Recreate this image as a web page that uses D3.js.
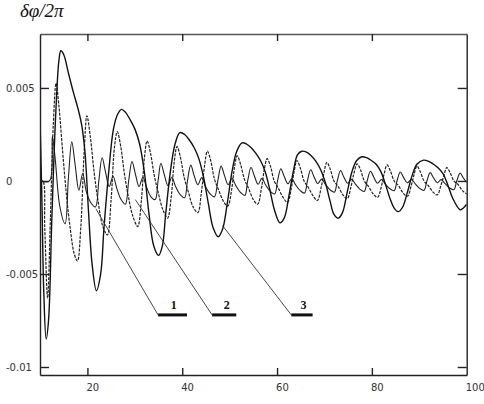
<!DOCTYPE html>
<html>
<head>
<meta charset="utf-8">
<script src="https://cdn.jsdelivr.net/npm/d3@7"></script>
<style>
  html, body { margin: 0; padding: 0; background: #fff; }
  svg { display: block; }
</style>
</head>
<body>
<svg id="chart" width="484" height="404"></svg>
<script>
// ---- DATA (y values in units of 1e-3) ----
const xTicks = [20, 40, 60, 80, 100];
const xTickLabels = ["20", "40", "60", "80", "100"];
const yTicks = [5, 0, -5, -10];
const yTickLabels = ["0.005", "0", "-0.005", "-0.01"];

// curve with the largest, slowest oscillation (solid, heavy)
const curveA = [
  [10,3.4],[10.4,-1.0],[10.8,-6.0],[11.3,-8.5],[11.8,-7.5],[12.5,-2.0],[13.3,3.5],[14.0,6.5],[14.4,7.0],
  [15.0,6.8],[16.0,5.8],[17.0,4.8],[18.0,3.9],[18.8,3.0],[19.5,1.5],[20.2,-1.5],[21.0,-4.5],[21.9,-5.9],
  [22.8,-5.0],[23.5,-2.5],[24.5,0.5],[25.5,2.8],[26.4,3.6],[27.2,3.85],[28.0,3.7],[29.0,3.3],[30.0,2.8],
  [31.0,2.0],[32.0,0.5],[33.0,-1.8],[34.0,-3.5],[35.0,-4.0],[35.8,-3.5],[36.5,-1.8],[37.5,0.5],[38.5,2.0],
  [39.5,2.6],[40.5,2.5],[41.5,2.2],[42.5,1.8],[43.5,1.2],[44.5,0.2],[45.5,-1.2],[46.5,-2.5],[47.6,-3.0],
  [48.5,-2.6],[49.5,-1.2],[50.5,0.5],[51.5,1.6],[52.6,2.05],[53.5,2.0],[54.5,1.8],[55.5,1.5],[56.5,1.1],
  [57.5,0.5],[58.5,-0.5],[59.5,-1.6],[60.6,-2.25],[61.5,-2.0],[62.5,-0.8],[63.5,0.6],[64.3,1.4],[65.2,1.6],
  [66.2,1.55],[67.2,1.35],[68.2,1.05],[69.2,0.6],[70.2,-0.1],[71.2,-1.1],[72.0,-1.8],[72.9,-2.0],[73.8,-1.7],
  [74.8,-0.6],[75.8,0.5],[76.8,1.1],[77.9,1.3],[78.9,1.25],[79.9,1.1],[80.9,0.9],[81.9,0.5],[82.9,-0.2],
  [83.9,-1.0],[84.8,-1.5],[85.6,-1.65],[86.5,-1.4],[87.5,-0.6],[88.5,0.3],[89.5,0.9],[90.9,1.12],[92,1.05],
  [93,0.9],[94,0.7],[95,0.4],[96,-0.2],[97,-0.9],[98.6,-1.55],[99.3,-1.45],[100,-1.25]
];

// medium-frequency curve (dashed)
const curveB = [
  [10,0],[10.6,0],[11.0,-2.5],[11.6,-6.3],[12.2,-2.0],[12.8,3.0],[13.4,5.25],[14.0,4.0],[14.8,1.5],
  [15.6,-0.8],[16.4,-2.6],[17.2,-3.9],[17.9,-4.3],[18.6,-2.5],[19.3,1.5],[19.9,3.5],[20.6,2.4],[21.4,0.5],
  [22.2,-1.0],[23.2,-2.4],[24.2,-2.9],[25.0,-1.0],[25.7,1.8],[26.3,2.65],[27.0,1.9],[27.8,0.4],[28.6,-0.8],
  [29.6,-1.9],[30.6,-2.45],[31.4,-1.0],[32.0,1.2],[32.6,2.15],[33.3,1.5],[34.1,0.3],[35.0,-0.7],[36.0,-1.6],
  [36.9,-2.0],[37.7,-0.8],[38.3,1.0],[38.9,1.85],[39.6,1.3],[40.4,0.2],[41.3,-0.6],[42.3,-1.4],[43.3,-1.7],
  [44.0,-0.7],[44.7,0.8],[45.3,1.6],[46.0,1.1],[46.8,0.1],[47.7,-0.5],[48.7,-1.1],[49.6,-1.35],[50.4,-0.5],
  [51.0,0.7],[51.6,1.35],[52.3,0.9],[53.1,0.1],[54.0,-0.4],[55.0,-1.0],[55.9,-1.25],[56.7,-0.4],[57.3,0.6],
  [57.9,1.2],[58.6,0.8],[59.4,0.0],[60.3,-0.4],[61.3,-0.9],[62.2,-1.15],[63.0,-0.4],[63.6,0.5],[64.2,1.1],
  [64.9,0.7],[65.7,0.0],[66.6,-0.35],[67.6,-0.8],[68.5,-1.05],[69.3,-0.35],[69.9,0.45],[70.5,1.0],[71.2,0.65],
  [72.0,0.0],[72.9,-0.3],[73.9,-0.75],[74.8,-0.95],[75.6,-0.3],[76.2,0.4],[76.9,0.92],[77.6,0.6],[78.4,0.0],
  [79.3,-0.3],[80.3,-0.7],[81.2,-0.88],[82.0,-0.3],[82.6,0.4],[83.2,0.86],[83.9,0.55],[84.7,0.0],[85.6,-0.25],
  [86.6,-0.65],[87.5,-0.82],[88.3,-0.25],[88.9,0.35],[89.5,0.8],[90.2,0.5],[91.0,0.0],[91.9,-0.25],[92.9,-0.6],
  [93.8,-0.75],[94.6,-0.2],[95.2,0.3],[95.8,0.72],[96.5,0.45],[97.3,0.0],[98.2,-0.2],[99.2,-0.55],[100,-0.7]
];

// small, fast curve (thin solid)
const curveC = [
  [10,0],[12.0,0],[12.6,2.4],[13.2,1.2],[14.2,-1.4],[15.3,-2.3],[16.0,0.2],[16.7,2.1],[17.4,0.9],[18.2,-0.5],
  [19.0,0.4],[19.8,-0.6],[20.8,-1.2],[21.7,-1.4],[22.4,0.0],[23.1,1.25],[23.8,0.5],[24.6,-0.3],[25.4,0.25],
  [26.2,-0.4],[27.1,-1.0],[28.0,-1.25],[28.7,0.0],[29.4,1.05],[30.1,0.4],[30.9,-0.3],[31.7,0.2],[32.5,-0.35],
  [33.4,-0.85],[34.3,-1.0],[34.9,0.0],[35.5,0.95],[36.2,0.35],[37.0,-0.25],[37.8,0.2],[38.6,-0.3],[39.6,-0.75],
  [40.5,-0.9],[41.1,0.0],[41.8,0.85],[42.5,0.3],[43.3,-0.2],[44.1,0.18],[44.9,-0.3],[45.9,-0.7],[46.8,-0.85],
  [47.5,0.0],[48.2,0.8],[48.9,0.3],[49.7,-0.2],[50.5,0.15],[51.3,-0.25],[52.3,-0.62],[53.2,-0.78],[53.8,0.0],
  [54.5,0.72],[55.2,0.28],[56.0,-0.18],[56.8,0.14],[57.6,-0.22],[58.6,-0.56],[59.5,-0.7],[60.1,0.0],[60.8,0.66],
  [61.5,0.25],[62.3,-0.15],[63.1,0.12],[63.9,-0.2],[64.9,-0.52],[65.8,-0.65],[66.4,0.0],[67.1,0.6],[67.8,0.22],
  [68.6,-0.14],[69.4,0.1],[70.2,-0.18],[71.2,-0.48],[72.1,-0.6],[72.7,0.0],[73.4,0.56],[74.1,0.2],[74.9,-0.12],
  [75.7,0.1],[76.5,-0.16],[77.5,-0.45],[78.4,-0.56],[79.0,0.0],[79.7,0.52],[80.4,0.2],[81.2,-0.12],[82.0,0.08],
  [82.8,-0.15],[83.8,-0.42],[84.7,-0.52],[85.3,0.0],[86.0,0.48],[86.7,0.18],[87.5,-0.1],[88.3,0.08],[89.1,-0.14],
  [90.1,-0.4],[91.0,-0.5],[91.6,0.0],[92.3,0.45],[93.0,0.17],[93.8,-0.1],[94.6,0.07],[95.4,-0.13],[96.4,-0.38],
  [97.3,-0.47],[97.9,0.0],[98.6,0.42],[99.3,0.16],[100,-0.08]
];

// curve labels with leader lines (data units)
const labelNames = ["1", "2", "3"];
const leaderStart = [[21.8, -1.5], [30.1, -1.0], [48.5, -2.4]];
const barFrom = [34.9, 46.3, 63.0];
const barTo = [41.0, 51.4, 67.5];
const barLevel = -7.2;
const labelX = [38.2, 49.4, 65.6];

// ---- DRAW ----
const svg = d3.select("#chart");
const W = 484, H = 404;
const L = 40, R = 466.7, T = 34, B = 375;

svg.append("rect").attr("width", W).attr("height", H).attr("fill", "#fff");

const x = d3.scaleLinear().domain([10, 100]).range([L, R]);
const y = d3.scaleLinear().domain([-10.43, 7.9]).range([B, T]);

svg.append("defs").append("clipPath").attr("id", "clip")
  .append("rect").attr("x", L).attr("y", T).attr("width", R - L).attr("height", B - T);

const line = d3.line().x(d => x(d[0])).y(d => y(d[1])).curve(d3.curveCatmullRom.alpha(0.5));

const g = svg.append("g").attr("clip-path", "url(#clip)");
g.append("path").datum(curveC).attr("d", line)
  .attr("fill", "none").attr("stroke", "#222").attr("stroke-width", 1.1);
g.append("path").datum(curveB).attr("d", line)
  .attr("fill", "none").attr("stroke", "#222").attr("stroke-width", 1.2)
  .attr("stroke-dasharray", "3,1.2");
g.append("path").datum(curveA).attr("d", line)
  .attr("fill", "none").attr("stroke", "#111").attr("stroke-width", 1.4);

// axes
const axisColor = "#222";
function styleAxis(sel) {
  sel.selectAll("path.domain").attr("stroke", axisColor).attr("stroke-width", 1.4);
  sel.selectAll(".tick line").attr("stroke", axisColor).attr("stroke-width", 1.4);
  sel.selectAll(".tick text").attr("fill", "#333")
    .style("font-family", "'DejaVu Sans', sans-serif").style("font-size", "10px");
}

const xb = svg.append("g").attr("transform", `translate(0,${B})`)
  .call(d3.axisBottom(x).tickValues(xTicks).tickSize(-7).tickSizeOuter(0).tickPadding(9)
    .tickFormat((d, i) => xTickLabels[i]));
styleAxis(xb);
xb.selectAll(".tick text").attr("text-anchor", "start").attr("dx", -1.5);
xb.selectAll(".tick").filter(d => d === 100).select("line").remove();

const xt = svg.append("g").attr("transform", `translate(0,${T})`)
  .call(d3.axisTop(x).tickValues(xTicks.filter(d => d < 100)).tickSize(-7).tickSizeOuter(0).tickFormat(""));
styleAxis(xt);
xt.selectAll("path.domain").attr("stroke", "#555");

const yl = svg.append("g").attr("transform", `translate(${L},0)`)
  .call(d3.axisLeft(y).tickValues(yTicks).tickSize(-9).tickSizeOuter(0)
    .tickFormat((d, i) => yTickLabels[i]));
styleAxis(yl);
yl.selectAll(".tick text").attr("text-anchor", "start").attr("x", 6 - L);

const yr = svg.append("g").attr("transform", `translate(${R},0)`)
  .call(d3.axisRight(y).tickValues(yTicks).tickSize(-9).tickSizeOuter(0).tickFormat(""));
styleAxis(yr);

// leader lines, bars and labels
const ann = svg.append("g");
labelNames.forEach((name, i) => {
  ann.append("line")
    .attr("x1", x(leaderStart[i][0])).attr("y1", y(leaderStart[i][1]))
    .attr("x2", x(barFrom[i])).attr("y2", y(barLevel))
    .attr("stroke", "#333").attr("stroke-width", 0.9);
  ann.append("line")
    .attr("x1", x(barFrom[i])).attr("y1", y(barLevel))
    .attr("x2", x(barTo[i])).attr("y2", y(barLevel))
    .attr("stroke", "#111").attr("stroke-width", 3);
  ann.append("text")
    .attr("x", x(labelX[i])).attr("y", y(barLevel) - 6)
    .attr("text-anchor", "middle")
    .style("font-family", "'Liberation Serif', serif").style("font-weight", "bold")
    .style("font-size", "12px").attr("fill", "#111")
    .text(name);
});

// y-axis title
svg.append("text").attr("x", 20).attr("y", 17)
  .style("font-family", "'Liberation Serif', serif").style("font-style", "italic")
  .style("font-size", "19px").attr("fill", "#111")
  .text("δφ/2π");
</script>
</body>
</html>
